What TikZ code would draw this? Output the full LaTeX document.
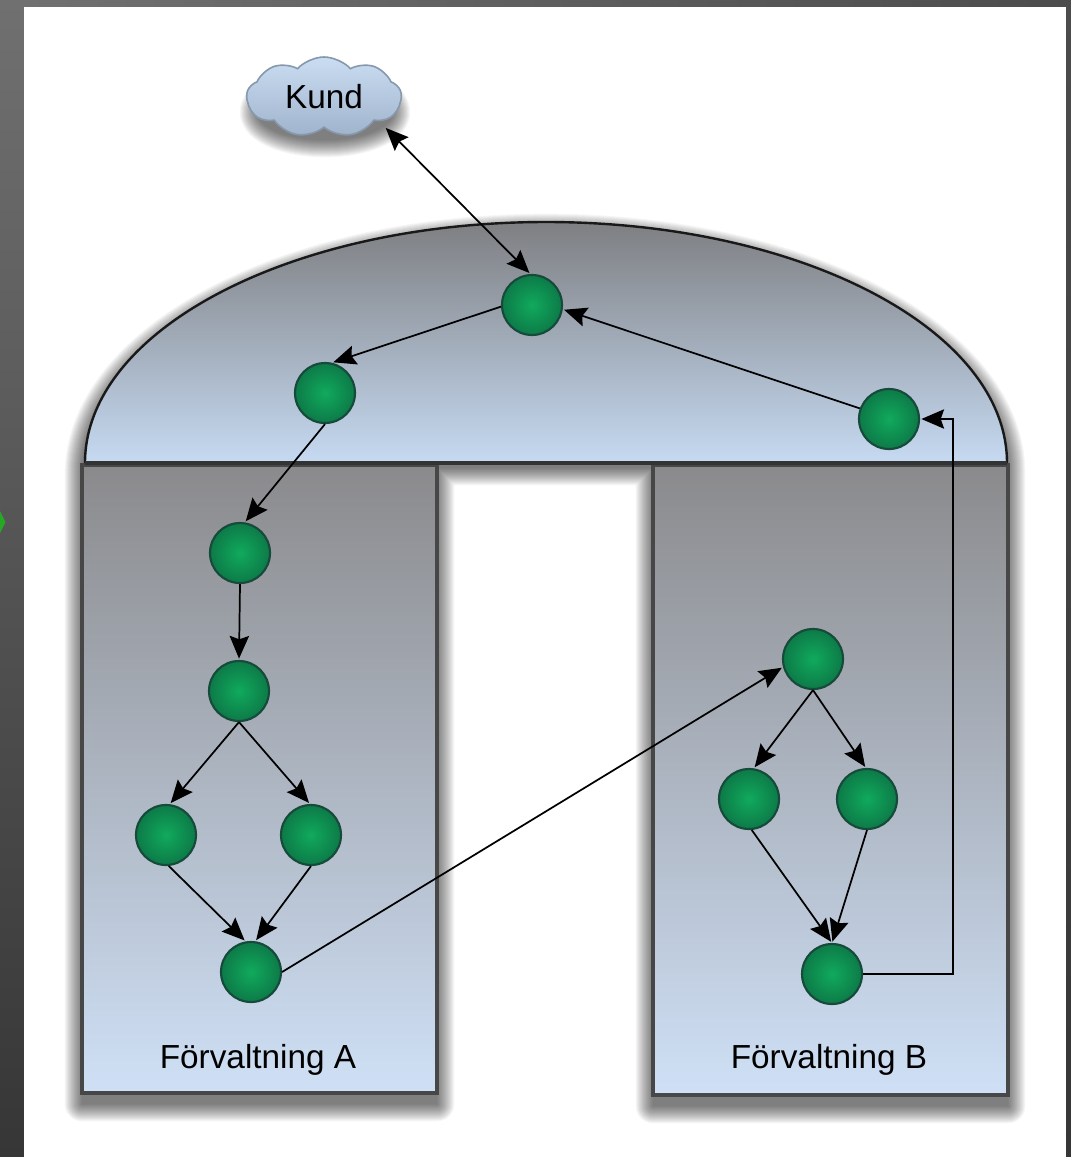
\documentclass[tikz,border=0pt]{standalone}
\usepackage{fontspec}
\setmainfont{Liberation Sans}
\usepackage{xcolor}
\usetikzlibrary{
    arrows.meta,
    shapes.symbols
}
\definecolor{stripTop}{HTML}{707070}
\definecolor{stripBottom}{HTML}{363636}
\definecolor{stripRight}{HTML}{4C4C4C}
\definecolor{boxTop}{HTML}{8A8A8C}
\definecolor{boxBottom}{HTML}{CFE0F6}
\definecolor{roofTopCol}{HTML}{7E7F82}
\definecolor{roofBottomCol}{HTML}{C6DAF2}
\definecolor{cloudTop}{HTML}{CADDF2}
\definecolor{cloudBottom}{HTML}{9FB3CC}
\definecolor{dotInner}{HTML}{10AA5C}
\definecolor{dotOuter}{HTML}{0D7A48}
\definecolor{dotEdge}{HTML}{164A3A}
\tikzset{
    tip/.tip={Stealth[length=17pt, width=14.5pt, inset=2.5pt]},
    stepdot/.style={circle, minimum size=45pt, inner sep=0pt, draw=dotEdge, line width=1.6pt,
        inner color=dotInner, outer color=dotOuter},
    flow/.style={-tip, line width=1.3pt, black, shorten >=1pt},
    boxwall/.style={draw=black!72, line width=3pt, top color=boxTop, bottom color=boxBottom},
    boxlabel/.style={font=\fontsize{25}{30}\selectfont, text=black}
}
\begin{document}
\begin{tikzpicture}[x=0.75pt, y=-0.75pt]
    \useasboundingbox (0, 0) rectangle (1071, 1157);
    % frame
    \shade[top color=stripTop, bottom color=stripBottom] (0, 0) rectangle (24, 1157);
    \shade[left color=stripTop, right color=stripRight] (24, 0) rectangle (1071, 7);
    \shade[top color=stripRight, bottom color=stripBottom] (1066, 7) rectangle (1071, 1157);
    \fill[white] (24, 7) rectangle (1066, 1157);
    \fill[green!60!black!85!white] (0, 511) -- (5.5, 522) -- (0, 533) -- cycle;
    % soft shadows
    \foreach \w in {0.5, 2, ..., 26} {
        \begin{scope}[transparency group, opacity=0.036]
            \filldraw[black, line width=\w pt, line join=round]
            (82, 472) .. controls (85, 339) and (291, 231) .. (546, 231)
            .. controls (801, 231) and (1007, 339) .. (1008, 472)
            -- (1008, 1106) -- (653, 1106) -- (653, 468) -- (437, 468) -- (437, 1104) -- (82, 1104) -- cycle
            (325, 112) ellipse [x radius=68, y radius=28];
        \end{scope}
    }
    % two departments and the shared roof
    \node[boxwall, minimum width=266pt, minimum height=471pt, inner sep=0pt] (boxA) at (259.5, 779) {};
    \node[boxwall, minimum width=266pt, minimum height=472pt, inner sep=0pt] (boxB) at (830.5, 780) {};
    \shade[top color=roofTopCol, bottom color=roofBottomCol] (85, 463)
    .. controls (85, 330) and (291, 222) .. (546, 222)
    .. controls (801, 222) and (1007, 330) .. (1007, 463) -- cycle;
    \draw[line width=1.8pt, black!90] (85, 463)
    .. controls (85, 330) and (291, 222) .. (546, 222)
    .. controls (801, 222) and (1007, 330) .. (1007, 463);
    \draw[line width=3.6pt, black!80] (85, 463) -- (1007, 463);
    % labels
    \node[boxlabel] (labelA) at (258, 1060) {Förvaltning A};
    \node[boxlabel] (labelB) at (829, 1060) {Förvaltning B};
    \node[cloud, cloud puffs=9, cloud puff arc=95, aspect=2.2, minimum width=116pt, minimum height=60pt, inner sep=0pt,
        draw=cloudBottom!85!black, line width=1.2pt, top color=cloudTop, bottom color=cloudBottom,
        font=\fontsize{25}{30}\selectfont, text=black] (kund) at (324, 97) {Kund};
    % steps
    \node[stepdot] (roofTop) at (532, 305) {};
    \node[stepdot] (roofLeft) at (325, 393) {};
    \node[stepdot] (roofRight) at (889, 419) {};
    \node[stepdot] (a1) at (240, 553) {};
    \node[stepdot] (a2) at (239, 691) {};
    \node[stepdot] (a3) at (166, 835) {};
    \node[stepdot] (a4) at (311, 835) {};
    \node[stepdot] (a5) at (251, 972) {};
    \node[stepdot] (b1) at (813, 659) {};
    \node[stepdot] (b2) at (749, 799) {};
    \node[stepdot] (b3) at (867, 799) {};
    \node[stepdot] (b4) at (832, 974) {};
    \coordinate (bend) at (953, 974);
    \coordinate (bendTop) at (953, 419);
    % flow
    \draw[flow, tip-tip] ([shift={(13, 5)}]kund.-28) -- (roofTop.93);
    \draw[flow] (roofTop.183) -- (roofLeft.77);
    \draw[flow] (roofLeft.-90) -- (a1.81);
    \draw[flow] (a1.south) -- (a2.north);
    \draw[flow] (a2.south) -- (a3.83);
    \draw[flow] (a2.south) -- (a4.92);
    \draw[flow] (a3.-85) -- (a5.100);
    \draw[flow] (a4.-90) -- (a5.82);
    \draw[flow] (a5.east) -- (b1.195);
    \draw[flow] (b1.south) -- (b2.81);
    \draw[flow] (b1.south) -- (b3.92);
    \draw[flow] (b2.-85) -- (b4.north);
    \draw[flow] (b3.-90) -- (b4.north);
    \draw[flow, line join=miter] (b4.east) -- (bend) -- (bendTop) -- (roofRight.east);
    \draw[flow] (roofRight.160) -- (roofTop.-8);
\end{tikzpicture}
\end{document}
